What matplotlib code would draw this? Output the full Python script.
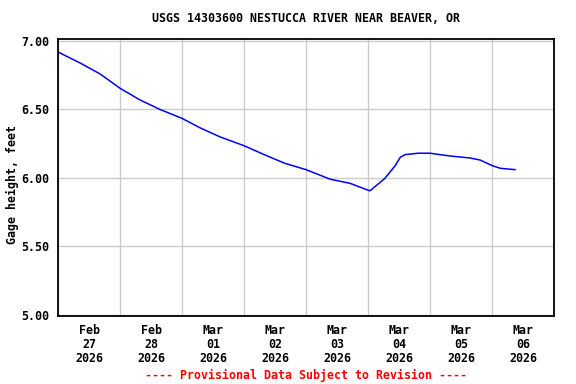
import numpy as np
import matplotlib
matplotlib.use("Agg")
from matplotlib import pyplot as plt

# days since Feb 27 2026 00:00 and gage height (feet)
days = [0.0, 0.355, 0.677, 1.0, 1.32, 1.645, 2.0, 2.29, 2.61, 3.0, 3.34, 3.66,
        4.0, 4.39, 4.71, 5.0, 5.03, 5.11, 5.27, 5.44, 5.52, 5.6, 5.81, 6.0,
        6.32, 6.65, 6.81, 7.0, 7.13, 7.37]
gage = [6.92, 6.84, 6.76, 6.655, 6.57, 6.50, 6.435, 6.366, 6.30, 6.235, 6.167, 6.106,
        6.06, 5.99, 5.96, 5.91, 5.905, 5.935, 5.995, 6.09, 6.15, 6.17, 6.18, 6.18,
        6.16, 6.145, 6.13, 6.09, 6.07, 6.06]

day_labels = ["Feb\n27\n2026", "Feb\n28\n2026", "Mar\n01\n2026", "Mar\n02\n2026",
              "Mar\n03\n2026", "Mar\n04\n2026", "Mar\n05\n2026", "Mar\n06\n2026"]
y_ticks = [5.0, 5.5, 6.0, 6.5, 7.0]

font = {"family": "DejaVu Sans Mono", "weight": "bold", "size": 8.4}

fig = plt.figure(figsize=(5.76, 3.84), dpi=100)
ax = fig.add_axes([58 / 576, 1 - 316 / 384, 496 / 576, 277 / 384])

ax.plot(days, gage, color="#0000ff", linewidth=1.1)

ax.set_xlim(0, 8)
ax.set_ylim(4.99, 7.015)

# grid at midnight, labels at noon
ax.set_xticks(range(0, 9))
ax.set_xticklabels([])
ax.set_xticks([i + 0.5 for i in range(8)], minor=True)
ax.set_xticklabels(day_labels, minor=True, fontdict=font, linespacing=1.08)
ax.tick_params(axis="x", which="both", length=0, pad=6)

ax.set_yticks(y_ticks)
ax.set_yticklabels(["%.2f" % v for v in y_ticks], fontdict=font)
ax.tick_params(axis="y", length=0, pad=6)

ax.grid(True, which="major", color="#cccccc", linewidth=1.0)
ax.set_axisbelow(True)
for s in ax.spines.values():
    s.set_linewidth(1.3)
    s.set_color("black")

fig.text(12 / 576, 1 - 185 / 384, "Gage height, feet", rotation=90,
         ha="center", va="center", **font)
fig.text(306 / 576, 1 - 19 / 384, "USGS 14303600 NESTUCCA RIVER NEAR BEAVER, OR",
         ha="center", va="center", **font)
fig.text(306 / 576, 1 - 375 / 384, "---- Provisional Data Subject to Revision ----",
         ha="center", va="center", color="red", **font)

fig.savefig("out.png", dpi=100)
